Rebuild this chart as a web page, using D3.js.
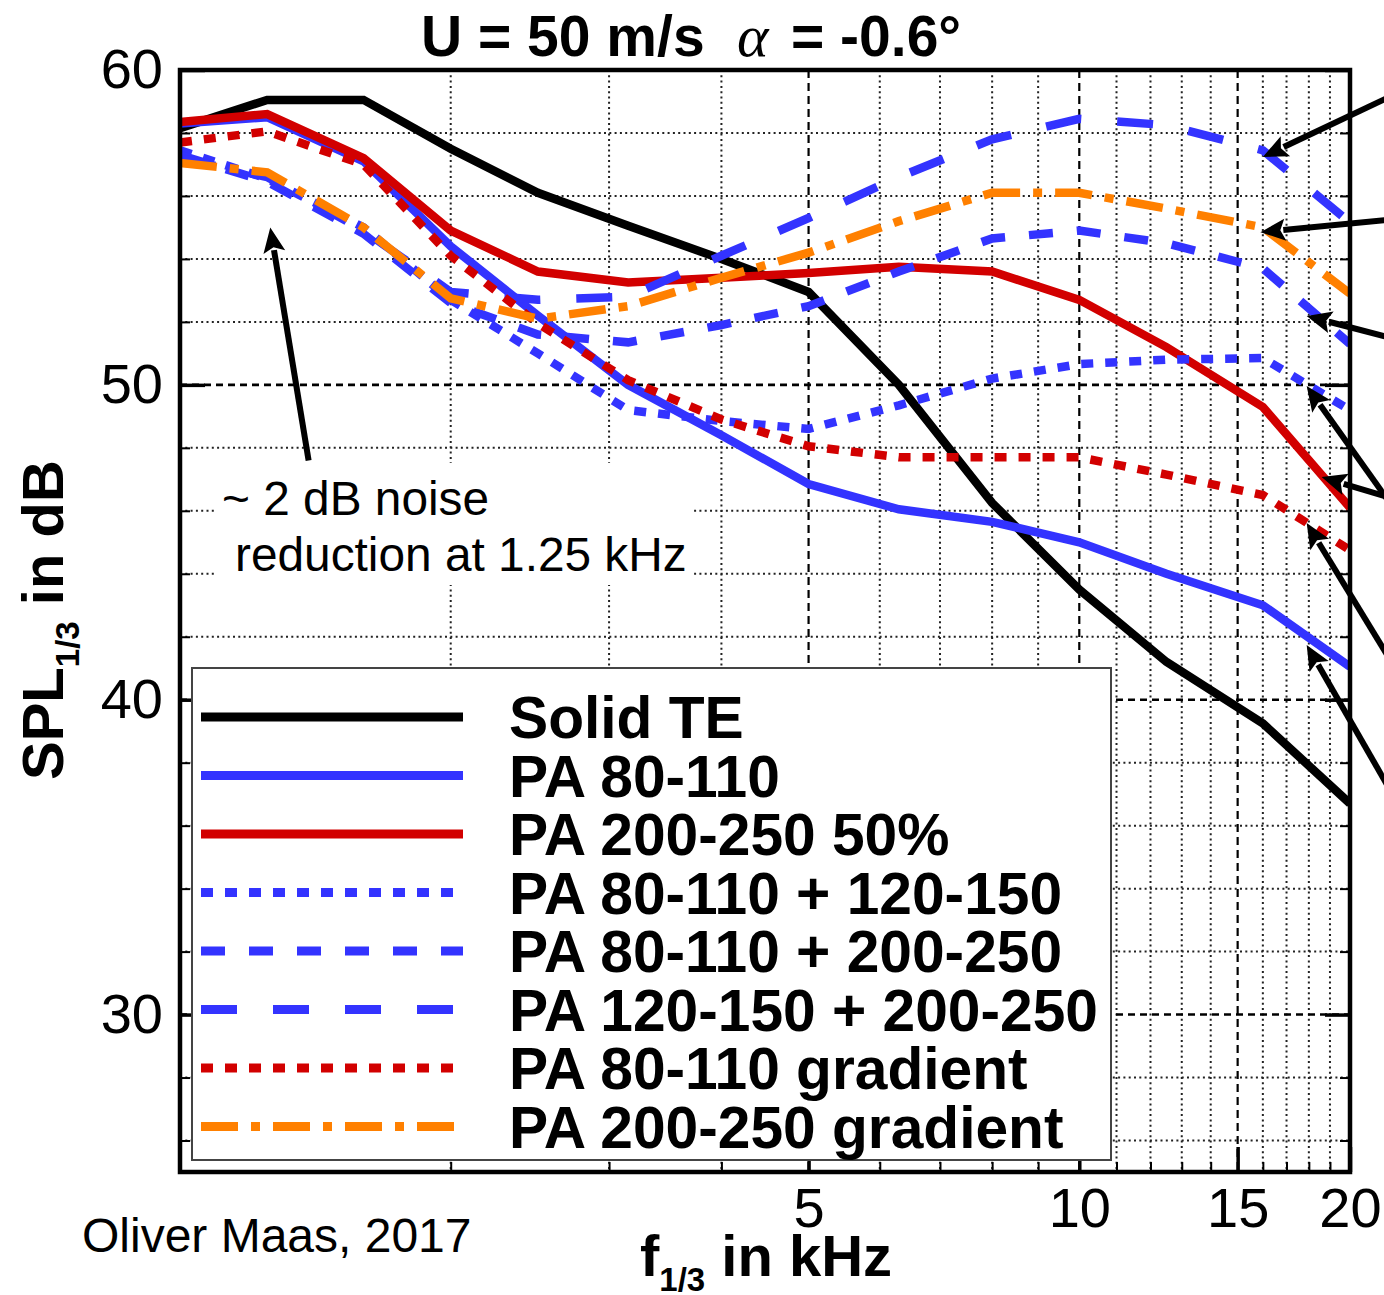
<!DOCTYPE html>
<html>
<head>
<meta charset="utf-8">
<script src="https://cdn.jsdelivr.net/npm/d3@7"></script>
<style>
  html, body { margin: 0; padding: 0; background: #fff; }
  svg { display: block; }
</style>
</head>
<body>
<svg id="chart" width="1384" height="1295"></svg>
<script>
// One-third-octave band centre frequencies in kHz
const freqs = [1, 1.25, 1.6, 2, 2.5, 3.15, 4, 5, 6.3, 8, 10, 12.5, 16, 20];

// SPL (1/3 octave) in dB for each configuration
const solidTE   = [58.15, 59.05, 59.05, 57.5, 56.1, 55.05, 54.0, 52.95, 50.0, 46.25, 43.5, 41.2, 39.25, 36.7];
const pa80      = [58.3, 58.5, 57.1, 54.4, 52.2, 50.0, 48.4, 46.85, 46.05, 45.65, 45.0, 44.0, 43.0, 41.05];
const pa200half = [58.35, 58.6, 57.2, 54.9, 53.6, 53.25, 53.4, 53.55, 53.75, 53.6, 52.7, 51.2, 49.3, 46.1];
const pa80_120  = [57.45, 56.55, 55.0, 52.7, 51.0, 49.2, 48.85, 48.6, 49.35, 50.2, 50.66, 50.8, 50.85, 49.2];
const pa80_200  = [57.3, 56.45, 54.8, 52.6, 51.6, 51.35, 51.9, 52.5, 53.6, 54.65, 54.9, 54.5, 53.7, 51.3];
const pa120_200 = [57.2, 56.6, 54.9, 52.95, 52.7, 52.8, 54.1, 55.3, 56.6, 57.8, 58.45, 58.25, 57.45, 55.15];
const pa80grad  = [57.7, 58.05, 57.0, 54.1, 51.95, 50.15, 48.9, 48.05, 47.7, 47.7, 47.7, 47.15, 46.5, 44.75];
const pa200grad = [57.05, 56.75, 55.0, 52.75, 52.1, 52.5, 53.4, 54.2, 55.2, 56.1, 56.1, 55.6, 55.0, 52.9];

const seriesNames = [
  "Solid TE", "PA 80-110", "PA 200-250 50%", "PA 80-110 + 120-150",
  "PA 80-110 + 200-250", "PA 120-150 + 200-250", "PA 80-110 gradient", "PA 200-250 gradient"
];
const seriesValues = [solidTE, pa80, pa200half, pa80_120, pa80_200, pa120_200, pa80grad, pa200grad];

// Axis ticks and grid positions
const xLabelTicks = [5, 10, 15, 20];
const xMinorTicks = [2, 3, 4, 6, 7, 8, 9, 11, 12, 13, 14, 16, 17, 18, 19];
const xMajorGrid  = [5, 10, 15];
const yLabelTicks = [30, 40, 50, 60];
const yMinorTicks = [26, 28, 32, 34, 36, 38, 42, 44, 46, 48, 52, 54, 56, 58];
const yMajorGrid  = [30, 40, 50];

// Callout arrows (tip and tail in kHz / dB)
const rightCallouts = [
  { tip: [16.0, 57.24], tail: [22, 59.11] },
  { tip: [15.9, 54.85], tail: [22, 55.24] },
  { tip: [17.9, 52.19], tail: [22, 51.52] },
  { tip: [17.9, 49.96], tail: [22, 46.37] },
  { tip: [18.6, 47.07], tail: [22, 46.44] },
  { tip: [17.9, 45.61], tail: [22, 41.42] },
  { tip: [17.9, 41.74], tail: [22, 37.29] }
];
const noteCallout = { tip: [1.26, 55.0], tail: [1.39, 47.6] };

// ---- styles ----
const BLUE = "#3333ff", RED = "#d20000", ORANGE = "#ff8000", BLACK = "#000";
const seriesStyle = [
  { color: BLACK,  dash: null },
  { color: BLUE,   dash: null },
  { color: RED,    dash: null },
  { color: BLUE,   dash: "12,12" },
  { color: BLUE,   dash: "24,24" },
  { color: BLUE,   dash: "36,36" },
  { color: RED,    dash: "12,12" },
  { color: ORANGE, dash: "37,13,9,13" }
];
const SANS = "'Liberation Sans', Arial, Helvetica, sans-serif";

const plot = { left: 180, right: 1350, top: 70, bottom: 1172 };
const x = d3.scaleLog().domain([1, 20]).range([plot.left, plot.right]);
const y = d3.scaleLinear().domain([25, 60]).range([plot.bottom, plot.top]);

const svg = d3.select("#chart");

svg.append("defs").append("clipPath").attr("id", "plotClip")
  .append("rect")
  .attr("x", plot.left).attr("y", plot.top)
  .attr("width", plot.right - plot.left).attr("height", plot.bottom - plot.top);

// ---- grid ----
const grid = svg.append("g");
grid.selectAll("line.vmin").data(xMinorTicks).join("line")
  .attr("x1", d => x(d)).attr("x2", d => x(d))
  .attr("y1", plot.top).attr("y2", plot.bottom)
  .attr("stroke", "#222").attr("stroke-width", 2).attr("stroke-dasharray", "2,3.3");
grid.selectAll("line.vmaj").data(xMajorGrid).join("line")
  .attr("x1", d => x(d)).attr("x2", d => x(d))
  .attr("y1", plot.top).attr("y2", plot.bottom)
  .attr("stroke", "#000").attr("stroke-width", 2.2).attr("stroke-dasharray", "8,5");
grid.selectAll("line.hmin").data(yMinorTicks).join("line")
  .attr("x1", plot.left).attr("x2", plot.right)
  .attr("y1", d => y(d)).attr("y2", d => y(d))
  .attr("stroke", "#222").attr("stroke-width", 2).attr("stroke-dasharray", "2,3.3");
grid.selectAll("line.hmaj").data(yMajorGrid).join("line")
  .attr("x1", plot.left).attr("x2", plot.right)
  .attr("y1", d => y(d)).attr("y2", d => y(d))
  .attr("stroke", "#000").attr("stroke-width", 2.6).attr("stroke-dasharray", "7,5");

// white panel behind the note text
svg.append("rect")
  .attr("x", 216).attr("y", 463).attr("width", 478).attr("height", 122)
  .attr("fill", "#fff");

// ---- axes ----
function styleAxis(sel, tickWidth) {
  sel.select(".domain").remove();
  sel.attr("font-family", SANS).attr("font-size", 56);
  sel.selectAll(".tick line").attr("stroke", "#000").attr("stroke-width", tickWidth);
  sel.selectAll(".tick text").attr("fill", "#000");
}
svg.append("g").attr("transform", `translate(${plot.left},0)`)
  .call(d3.axisLeft(y).tickValues(yMinorTicks).tickSizeInner(-10).tickSizeOuter(0).tickFormat(""))
  .call(s => styleAxis(s, 2));
svg.append("g").attr("transform", `translate(${plot.right},0)`)
  .call(d3.axisRight(y).tickValues(yMinorTicks).tickSizeInner(-10).tickSizeOuter(0).tickFormat(""))
  .call(s => styleAxis(s, 2));
svg.append("g").attr("transform", `translate(${plot.right},0)`)
  .call(d3.axisRight(y).tickValues(yLabelTicks).tickSizeInner(-25).tickSizeOuter(0).tickFormat(""))
  .call(s => styleAxis(s, 3.5));
svg.append("g").attr("transform", `translate(0,${plot.bottom})`)
  .call(d3.axisBottom(x).tickValues(xMinorTicks).tickSizeInner(-10).tickSizeOuter(0).tickFormat(""))
  .call(s => styleAxis(s, 2));
svg.append("g").attr("transform", `translate(0,${plot.bottom})`)
  .call(d3.axisBottom(x).tickValues(xLabelTicks).tickSizeInner(-25).tickSizeOuter(0)
        .tickPadding(15).tickFormat(d3.format("d")))
  .call(s => styleAxis(s, 3.5));
svg.append("g").attr("transform", `translate(${plot.left},0)`)
  .call(d3.axisLeft(y).tickValues(yLabelTicks).tickSizeInner(-25).tickSizeOuter(0)
        .tickPadding(17).tickFormat(d3.format("d")))
  .call(s => styleAxis(s, 3.5));

// ---- curves ----
const line = d3.line().x(d => x(d[0])).y(d => y(d[1]));
const curves = svg.append("g").attr("clip-path", "url(#plotClip)");
seriesValues.forEach((vals, i) => {
  const pts = freqs.map((f, j) => [f, vals[j]]);
  curves.append("path")
    .datum(pts)
    .attr("d", line)
    .attr("fill", "none")
    .attr("stroke", seriesStyle[i].color)
    .attr("stroke-width", 8.5)
    .attr("stroke-dasharray", seriesStyle[i].dash)
    .attr("stroke-linejoin", "miter");
});

// ---- legend ----
const legend = svg.append("g");
legend.append("rect")
  .attr("x", 192).attr("y", 668).attr("width", 919).attr("height", 492)
  .attr("fill", "#fff").attr("stroke", "#444").attr("stroke-width", 2);
seriesNames.forEach((name, i) => {
  const yy = 717 + i * 58.5;
  legend.append("line")
    .attr("x1", 201).attr("x2", 463).attr("y1", yy).attr("y2", yy)
    .attr("stroke", seriesStyle[i].color).attr("stroke-width", 9)
    .attr("stroke-dasharray", seriesStyle[i].dash);
  legend.append("text")
    .attr("x", 509).attr("y", yy + 21)
    .attr("font-family", SANS).attr("font-weight", "bold").attr("font-size", 58.7)
    .attr("fill", "#000")
    .text(name);
});

// ---- frame ----
svg.append("rect")
  .attr("x", plot.left).attr("y", plot.top)
  .attr("width", plot.right - plot.left).attr("height", plot.bottom - plot.top)
  .attr("fill", "none").attr("stroke", "#000").attr("stroke-width", 4.5);

// ---- arrows ----
function arrow(c) {
  const tx = x(c.tip[0]), ty = y(c.tip[1]);
  const sx = x(c.tail[0]), sy = y(c.tail[1]);
  const dx = tx - sx, dy = ty - sy, len = Math.hypot(dx, dy);
  const ux = dx / len, uy = dy / len;
  const headL = 25, headW = 11;
  const bx = tx - ux * headL, by = ty - uy * headL;
  svg.append("line")
    .attr("x1", sx).attr("y1", sy).attr("x2", bx + ux * 2).attr("y2", by + uy * 2)
    .attr("stroke", "#000").attr("stroke-width", 6);
  svg.append("polygon")
    .attr("points", [
      [tx, ty],
      [bx - uy * headW, by + ux * headW],
      [bx + ux * 5, by + uy * 5],
      [bx + uy * headW, by - ux * headW]
    ].map(p => p.join(",")).join(" "))
    .attr("fill", "#000");
}
rightCallouts.forEach(arrow);
arrow(noteCallout);

// ---- texts ----
const title = svg.append("text")
  .attr("y", 56).attr("font-family", SANS).attr("font-size", 57)
  .attr("font-weight", "bold").attr("fill", "#000");
title.append("tspan").attr("x", 421).text("U = 50 m/s");
title.append("tspan").attr("x", 737)
  .attr("font-family", "'Liberation Serif', 'Times New Roman', serif")
  .attr("font-style", "italic").attr("font-weight", "normal").attr("font-size", 60).text("α");
title.append("tspan").attr("x", 791).text("= -0.6°");

const ylab = svg.append("text")
  .attr("transform", "translate(63,780) rotate(-90)")
  .attr("font-family", SANS).attr("font-weight", "bold").attr("font-size", 58).attr("fill", "#000");
ylab.append("tspan").text("SPL");
ylab.append("tspan").attr("font-size", 33).attr("dy", 16).text("1/3");
ylab.append("tspan").attr("dy", -16).text(" in dB");

const xlab = svg.append("text")
  .attr("x", 640).attr("y", 1276)
  .attr("font-family", SANS).attr("font-weight", "bold").attr("font-size", 58).attr("fill", "#000");
xlab.append("tspan").text("f");
xlab.append("tspan").attr("font-size", 33).attr("dy", 15).text("1/3");
xlab.append("tspan").attr("dy", -15).text(" in kHz");

svg.append("text")
  .attr("x", 82).attr("y", 1252)
  .attr("font-family", SANS).attr("font-size", 48).attr("fill", "#000")
  .text("Oliver Maas, 2017");

svg.append("text")
  .attr("x", 222).attr("y", 515)
  .attr("font-family", SANS).attr("font-size", 47.8).attr("fill", "#000")
  .text("~ 2 dB noise");
svg.append("text")
  .attr("x", 235).attr("y", 571)
  .attr("font-family", SANS).attr("font-size", 47.8).attr("fill", "#000")
  .text("reduction at 1.25 kHz");
</script>
</body>
</html>
